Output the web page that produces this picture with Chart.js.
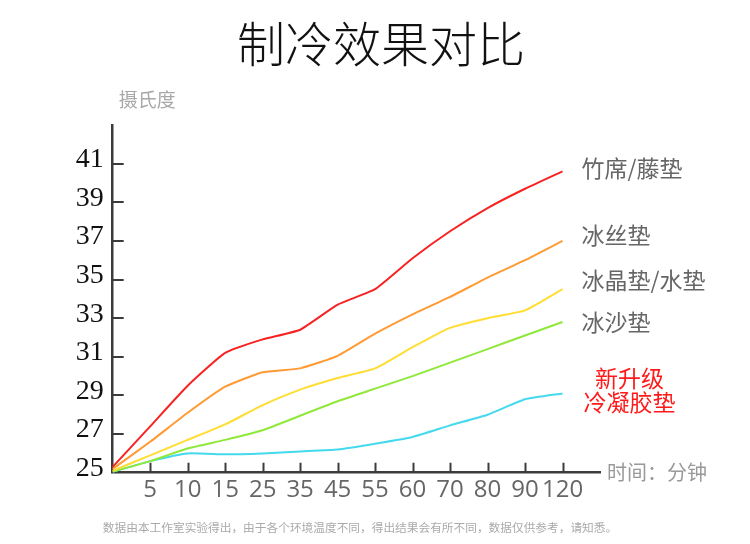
<!DOCTYPE html>
<html>
<head>
<meta charset="utf-8">
<script src="https://cdn.jsdelivr.net/npm/chart.js@4/dist/chart.umd.min.js"></script>
<style>
  html, body { margin: 0; padding: 0; background: #fff; }
  canvas { display: block; }
</style>
</head>
<body>
<canvas id="cooling-chart" width="750" height="544"></canvas>
<script>
// data
var chartTitle = '制冷效果对比';
var yUnit = '摄氏度';
var xUnit = '时间：分钟';
var footNote = '数据由本工作室实验得出，由于各个环境温度不同，得出结果会有所不同，数据仅供参考，请知悉。';

var minutes = ['', '5', '10', '15', '25', '35', '45', '55', '60', '70', '80', '90', '120', ''];
var yTicks = [25, 27, 29, 31, 33, 35, 37, 39, 41];

var seriesNames = ['竹席/藤垫', '冰丝垫', '冰晶垫/水垫', '冰沙垫', '新升级\n冷凝胶垫'];
var bambooMat = [25.3, 27.4, 29.5, 31.2, 31.9, 32.4, 33.7, 34.5, 36.1, 37.5, 38.7, 39.7, 40.6];
var iceSilkMat = [25.2, 26.6, 28.1, 29.45, 30.2, 30.4, 31.05, 32.2, 33.2, 34.1, 35.1, 36.0, 37.0];
var crystalMat = [25.1, 25.9, 26.7, 27.5, 28.5, 29.3, 29.9, 30.4, 31.5, 32.5, 33.0, 33.4, 34.5];
var iceSandMat = [25.05, 25.6, 26.25, 26.7, 27.2, 27.95, 28.7, 29.35, 30.0, 30.7, 31.4, 32.1, 32.8];
var gelMat = [25.05, 25.6, 26.0, 25.95, 26.0, 26.1, 26.2, 26.5, 26.85, 27.45, 28.0, 28.8, 29.1];

var lineColors = ['#f72323', '#ff9a35', '#ffdd33', '#8fe83a', '#45d9ee'];
var labelShift = [-3, -6, -9, 0, 0];
var axisColor = '#3c3c3c';

(function () {
  var canvas = document.getElementById('cooling-chart');
  if (!canvas) return;

  // short tick marks pointing into the plot, like the drawing
  var innerTicks = {
    id: 'innerTicks',
    beforeDatasetsDraw: function (chart) {
      var ctx = chart.ctx, area = chart.chartArea;
      var x = chart.scales.x, y = chart.scales.y;
      ctx.save();
      ctx.strokeStyle = axisColor;
      ctx.lineWidth = 2;
      ctx.beginPath();
      x.ticks.forEach(function (t, i) {
        if (!minutes[t.value]) return;
        var px = Math.round(x.getPixelForTick(i)) + 0.5;
        ctx.moveTo(px, area.bottom);
        ctx.lineTo(px, area.bottom - 10);
      });
      y.ticks.forEach(function (t, i) {
        if (yTicks.indexOf(t.value) < 1) return;
        var py = Math.round(y.getPixelForTick(i));
        ctx.moveTo(area.left, py);
        ctx.lineTo(area.left + 11, py);
      });
      ctx.stroke();
      ctx.restore();
    }
  };

  var textLayer = {
    id: 'textLayer',
    afterDraw: function (chart) {
      var ctx = chart.ctx, area = chart.chartArea;
      ctx.save();
      ctx.textBaseline = 'middle';

      ctx.font = '300 48px "Noto Sans CJK SC"';
      ctx.fillStyle = '#111';
      ctx.textAlign = 'center';
      ctx.fillText(chartTitle, 381, 44);

      ctx.font = '19px "Noto Sans CJK SC"';
      ctx.fillStyle = '#a8a8a8';
      ctx.textAlign = 'left';
      ctx.fillText(yUnit, area.left + 6, area.top - 25);

      ctx.font = '20px "Noto Sans CJK SC"';
      ctx.fillStyle = '#999';
      ctx.fillText(xUnit, area.right + 7, area.bottom);

      ctx.font = '11.7px "Noto Sans CJK SC"';
      ctx.fillStyle = '#aaa';
      ctx.textAlign = 'center';
      ctx.fillText(footNote, 360, 528);

      chart.data.datasets.forEach(function (ds, i) {
        var pts = chart.getDatasetMeta(i).data;
        var last = pts[pts.length - 1];
        var lines = seriesNames[i].split('\n');
        ctx.font = '23px "Noto Sans CJK SC"';
        if (lines.length > 1) {
          ctx.fillStyle = '#ff1a1a';
          ctx.textAlign = 'center';
          ctx.fillText(lines[0], last.x + 67, last.y - 15);
          ctx.fillText(lines[1], last.x + 67, last.y + 9);
        } else {
          ctx.fillStyle = '#666';
          ctx.textAlign = 'left';
          ctx.fillText(lines[0], last.x + 19, last.y + labelShift[i]);
        }
      });
      ctx.restore();
    }
  };

  var allSeries = [bambooMat, iceSilkMat, crystalMat, iceSandMat, gelMat];

  new Chart(canvas, {
    type: 'line',
    data: {
      labels: minutes,
      datasets: allSeries.map(function (vals, i) {
        return {
          label: seriesNames[i],
          data: vals,
          borderColor: lineColors[i],
          borderWidth: 2,
          pointRadius: 0,
          tension: 0.15,
          fill: false
        };
      })
    },
    options: {
      responsive: false,
      animation: false,
      layout: { padding: { top: 125, right: 150, bottom: 0, left: 0 } },
      plugins: {
        legend: { display: false },
        tooltip: { enabled: false }
      },
      scales: {
        x: {
          offset: false,
          grid: { display: false, drawTicks: false },
          border: { color: axisColor, width: 2.5 },
          ticks: {
            autoSkip: false,
            maxRotation: 0,
            padding: 3,
            color: '#666',
            font: { family: '"Open Sans"', size: 24 }
          },
          afterFit: function (scale) { scale.height = 71.3; }
        },
        y: {
          min: 25,
          max: 43,
          grid: { display: false, drawTicks: false },
          border: { color: axisColor, width: 2.5 },
          ticks: {
            stepSize: 2,
            padding: 9,
            labelOffset: -4,
            color: '#111',
            font: { family: '"Liberation Serif"', size: 28 },
            callback: function (v) { return yTicks.indexOf(v) >= 0 ? String(v) : ''; }
          },
          afterFit: function (scale) { scale.width = 112.7; }
        }
      }
    },
    plugins: [innerTicks, textLayer]
  });
}());
</script>
</body>
</html>
